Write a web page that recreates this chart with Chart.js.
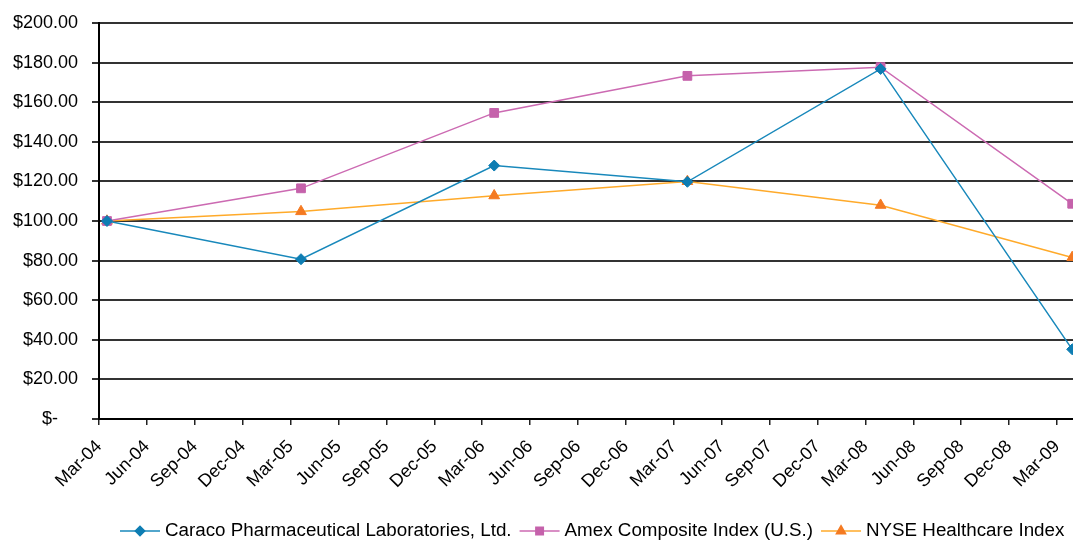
<!DOCTYPE html>
<html>
<head>
<meta charset="utf-8">
<script src="https://cdn.jsdelivr.net/npm/chart.js@4/dist/chart.umd.min.js"></script>
<style>
  html, body { margin: 0; padding: 0; background: #ffffff; }
  #wrap { width: 1073px; height: 541px; position: relative; }
</style>
</head>
<body>
<div id="wrap"><canvas id="chart" width="1073" height="541"></canvas></div>
<script>
// Quarterly axis labels, March 2004 through March 2009
const tickLabels = [
  'Mar-04', 'Jun-04', 'Sep-04', 'Dec-04',
  'Mar-05', 'Jun-05', 'Sep-05', 'Dec-05',
  'Mar-06', 'Jun-06', 'Sep-06', 'Dec-06',
  'Mar-07', 'Jun-07', 'Sep-07', 'Dec-07',
  'Mar-08', 'Jun-08', 'Sep-08', 'Dec-08',
  'Mar-09'
];
// Measurement dates, in months after March 2004
const pointMonths = [0.5, 12.65, 24.75, 36.85, 48.95, 60.95];

// Value of a $100 investment at each measurement date
const caraco = [100.0, 80.7, 128.0, 119.8, 176.8, 35.2];
const amex   = [100.0, 116.5, 154.6, 173.3, 177.7, 108.7];
const nyse   = [100.0, 104.8, 112.8, 120.0, 108.0, 81.6];

// Value axis labels (accounting style, zero shown as a dash)
const yTickLabels = ['$-\u00a0\u00a0\u00a0\u00a0', '$20.00', '$40.00', '$60.00', '$80.00', '$100.00',
                     '$120.00', '$140.00', '$160.00', '$180.00', '$200.00'];

const FONT = '"Liberation Sans", Arial, sans-serif';

function toPoints(values) {
  return values.map((v, i) => ({ x: pointMonths[i], y: v }));
}

// Legend drawn below the axis labels: short line with the series marker in its middle
const bottomLegend = {
  id: 'bottomLegend',
  afterDraw(chart) {
    const ctx = chart.ctx;
    const y = 531;
    let x = 120;
    ctx.save();
    ctx.font = '18.8px ' + FONT;
    ctx.textBaseline = 'middle';
    ctx.textAlign = 'left';
    chart.data.datasets.forEach(ds => {
      ctx.strokeStyle = ds.borderColor;
      ctx.lineWidth = 1.5;
      ctx.beginPath();
      ctx.moveTo(x, y);
      ctx.lineTo(x + 40, y);
      ctx.stroke();
      ctx.fillStyle = ds.pointBackgroundColor;
      ctx.strokeStyle = ds.pointBorderColor;
      Chart.helpers.drawPoint(ctx, {
        pointStyle: ds.pointStyle,
        radius: ds.pointRadius * 0.85,
        rotation: 0,
        borderWidth: 1
      }, x + 20, y);
      ctx.fillStyle = '#000000';
      ctx.fillText(ds.label, x + 45, y);
      x += 45 + ctx.measureText(ds.label).width + 8;
    });
    ctx.restore();
  }
};

new Chart(document.getElementById('chart'), {
  type: 'line',
  data: {
    datasets: [
      {
        label: 'Caraco Pharmaceutical Laboratories, Ltd.',
        data: toPoints(caraco),
        borderColor: '#1888bb',
        borderWidth: 1.5,
        pointStyle: 'rectRot',
        pointRadius: 5.5,
        pointBackgroundColor: '#0d7db3',
        pointBorderColor: '#0d7db3',
        pointBorderWidth: 1
      },
      {
        label: 'Amex Composite Index (U.S.)',
        data: toPoints(amex),
        borderColor: '#cc6ab2',
        borderWidth: 1.5,
        pointStyle: 'rect',
        pointRadius: 6.2,
        pointBackgroundColor: '#c562ab',
        pointBorderColor: '#c562ab',
        pointBorderWidth: 1
      },
      {
        label: 'NYSE Healthcare Index',
        data: toPoints(nyse),
        borderColor: '#ffaa2a',
        borderWidth: 1.5,
        pointStyle: 'triangle',
        pointRadius: 6.2,
        pointBackgroundColor: '#f47a22',
        pointBorderColor: '#f47a22',
        pointBorderWidth: 1
      }
    ]
  },
  options: {
    responsive: false,
    animation: false,
    devicePixelRatio: 1,
    layout: { autoPadding: false, padding: { top: 23, right: 0, bottom: 0, left: 0 } },
    plugins: {
      legend: { display: false },
      tooltip: { enabled: false }
    },
    elements: { line: { tension: 0 } },
    scales: {
      x: {
        type: 'linear',
        min: 0,
        max: 61,
        afterBuildTicks(scale) {
          scale.ticks = tickLabels.map((_, i) => ({ value: i * 3 }));
        },
        afterFit(scale) {
          scale.height = 122;
          scale.paddingLeft = 0;
          scale.paddingRight = 0;
        },
        ticks: {
          autoSkip: false,
          maxRotation: 45,
          minRotation: 45,
          padding: 11,
          color: '#000000',
          font: { family: FONT, size: 18 },
          callback: (value, index) => tickLabels[index]
        },
        grid: {
          drawOnChartArea: false,
          drawTicks: true,
          tickLength: 6,
          color: '#222222',
          lineWidth: 1.5
        },
        border: { display: true, color: '#000000', width: 2 }
      },
      y: {
        min: 0,
        max: 200,
        afterBuildTicks(scale) {
          scale.ticks = yTickLabels.map((_, i) => ({ value: i * 20 }));
        },
        afterFit(scale) {
          scale.width = 99;
          scale.paddingTop = 0;
          scale.paddingBottom = 0;
        },
        ticks: {
          padding: 14,
          color: '#000000',
          font: { family: FONT, size: 18 },
          callback: (value, index) => yTickLabels[index]
        },
        grid: {
          drawTicks: true,
          tickLength: 7,
          color: '#333333',
          lineWidth: 2
        },
        border: { display: true, color: '#000000', width: 2 }
      }
    }
  },
  plugins: [bottomLegend]
});
</script>
</body>
</html>
